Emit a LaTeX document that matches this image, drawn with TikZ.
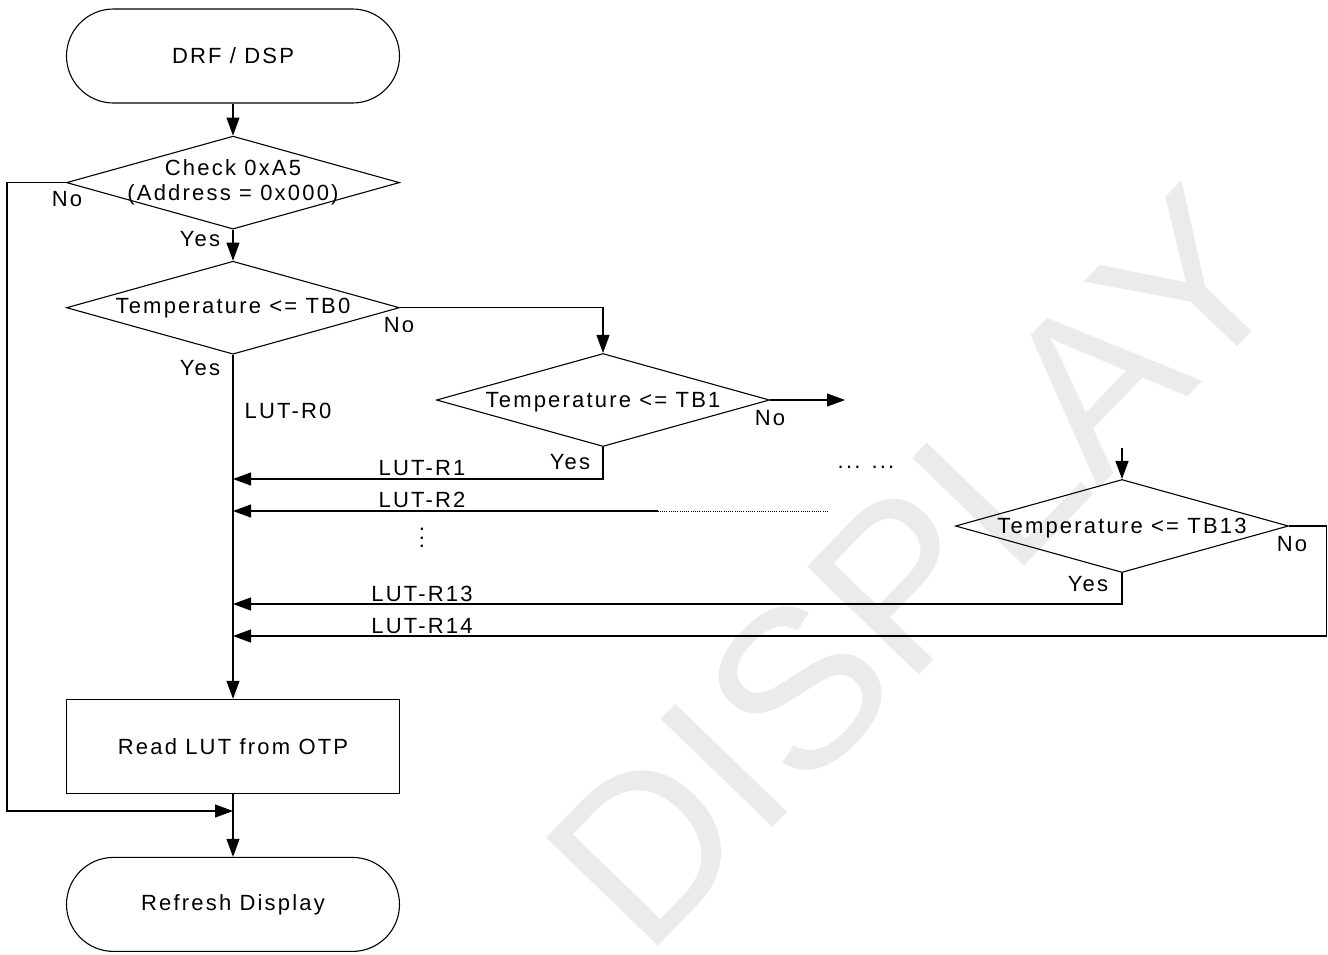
\documentclass[tikz,border=0pt]{standalone}
\usepackage{fontspec}
\setmainfont{Liberation Sans}[LetterSpace=10]
\newfontfamily\markfont{Liberation Sans}
\usepackage{tikz}
\usetikzlibrary{
	arrows.meta,
	positioning,
	shapes.geometric,
	}
\newcommand{\dotcol}{\vbox{\baselineskip=8.5pt\lineskiplimit=0pt\hbox{.}\hbox{.}\hbox{.}}}

\begin{document}
\begin{tikzpicture}[x=1pt, y=-1pt, line width=1.1pt, font=\fontsize{22}{25}\selectfont,
		>={Triangle[length=18pt, width=13pt]},
		term/.style={draw, rectangle, rounded corners=47pt, minimum width=333pt, minimum height=94pt},
		proc/.style={draw, rectangle, minimum width=333pt, minimum height=94pt},
		decision/.style={draw, diamond, inner sep=0pt, minimum width=333pt, minimum height=93pt},
		txt/.style={inner sep=0pt, align=center},
		wmark/.style={inner sep=0pt, rotate=46, text=black!8, font=\markfont\fontsize{226}{226}\selectfont}]
			\useasboundingbox (0,0) rectangle (1328,954);
			\node[wmark] (wm) at (915,568) {DISPLAY};

			\node[term] (drf) at (233,56) {DRF / DSP};
			\node[decision, below=32pt of drf] (chk) {};
			\node[decision, below=31pt of chk] (tb0) {};
			\node[proc, below=344pt of tb0] (read) {Read LUT from OTP};
			\node[term, below=63pt of read] (ref) {Refresh Display};
			\node[decision] (tb1) at (603,400) {};
			\node[decision] (tb13) at (1122,526) {};

			\node[txt] (chktxt) at (233,182.5) {Check 0xA5\\(Address = 0x000)};
			\node[txt] (tb0txt) at (233,308) {Temperature <= TB0};
			\node[txt] (tb1txt) at (603,402) {Temperature <= TB1};
			\node[txt] (tb13txt) at (1122,528) {Temperature <= TB13};

			\node[txt] (no0) at (67,199) {No};
			\node[txt] (yes0) at (200,239) {Yes};
			\node[txt] (no1) at (399,325) {No};
			\node[txt] (yes1) at (200,368) {Yes};
			\node[txt] (lr0) at (288,411) {LUT-R0};
			\node[txt] (no2) at (770,418) {No};
			\node[txt] (yes2) at (570,462) {Yes};
			\node[txt] (lr1) at (422,468) {LUT-R1};
			\node[txt] (lr2) at (422,500) {LUT-R2};
			\node[txt] (vd) at (422,538) {\dotcol};
			\node[txt] (hd) at (866,467) {... ...};
			\node[txt] (no3) at (1292,544) {No};
			\node[txt] (yes3) at (1088,584) {Yes};
			\node[txt] (lr13) at (422,594) {LUT-R13};
			\node[txt] (lr14) at (422,626) {LUT-R14};

			\coordinate (join) at (233,811);
			\coordinate (tb1out) at (845,400);
			\coordinate (tb13in) at (1122,448);
			\coordinate (r1) at (233,479);
			\coordinate (r2) at (233,511);
			\coordinate (r2a) at (828,511);
			\coordinate (r2b) at (658,511);
			\coordinate (r13) at (233,604);
			\coordinate (r14) at (233,636);

			\draw[->] (drf) -- (chk);
			\draw[->] (chk) -- (tb0);
			\draw[->] (chk.west) -- ++(-59,0) |- (join);
			\draw[->] (tb0) -- (read);
			\draw[->] (tb0.east) -| (tb1.north);
			\draw[->] (tb1.east) -- (tb1out);
			\draw[->] (tb1.south) |- (r1);
			\draw[line width=0.9pt, dash pattern=on 1pt off 1.2pt] (r2a) -- (r2b);
			\draw[->] (r2b) -- (r2);
			\draw[->] (tb13in) -- (tb13);
			\draw[->] (tb13.south) |- (r13);
			\draw[->] (tb13.east) -- ++(37,0) |- (r14);
			\draw[->] (read) -- (ref);

		\end{tikzpicture}
\end{document}
